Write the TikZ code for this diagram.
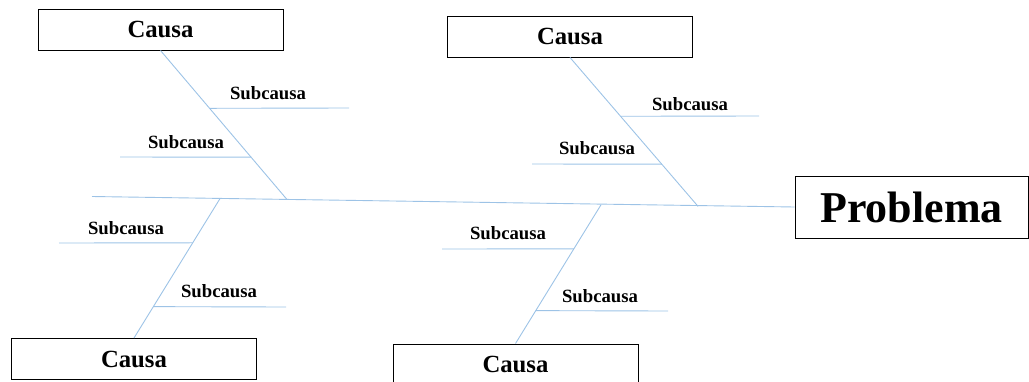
\documentclass[tikz,border=0pt]{standalone}
\usepackage{fontspec}
\setmainfont{Liberation Serif}
\usetikzlibrary{calc}
\definecolor{bonecol}{RGB}{157,195,230}
\begin{document}
\begin{tikzpicture}[x=1pt,y=-1pt,
 causebox/.style={draw=black, line width=1pt, minimum width=245pt, minimum height=41pt, inner sep=0pt, font=\fontsize{24.7}{26}\selectfont\bfseries},
 probbox/.style={draw=black, line width=1pt, minimum width=233pt, minimum height=62pt, inner sep=0pt, font=\fontsize{44}{46}\selectfont\bfseries},
 sublabel/.style={inner sep=0pt, font=\fontsize{18.7}{20}\selectfont\bfseries},
 bone/.style={draw=bonecol, line width=0.9pt}]
\useasboundingbox (0,0) rectangle (1029,381);
% boxes
\node[causebox] (c1) at (160.5,29.5) {Causa};
\node[causebox] (c2) at (570,36.5) {Causa};
\node[causebox] (c3) at (134,359) {Causa};
\node[causebox] (c4) at (515.5,364.5) {Causa};
\node[probbox] (p) at (911.5,207) {Problema};
% spine
\coordinate (s0) at (92,196.5);
\coordinate (j1) at (287,199.5);
\coordinate (j2) at (698,206.3);
\coordinate (j3) at (220,198.6);
\coordinate (j4) at (601,204.8);
\draw[bone] (s0) -- (p.west);
% main branches
\draw[bone] (c1.south) -- (j1);
\draw[bone] (c2.south) -- (j2);
\draw[bone] (c3.north) -- (j3);
\draw[bone] (c4.north) -- (j4);
% points on branches
\coordinate (b1a) at ($(c1.south)!0.388!(j1)$);
\coordinate (b1b) at ($(c1.south)!0.716!(j1)$);
\coordinate (b2a) at ($(c2.south)!0.395!(j2)$);
\coordinate (b2b) at ($(c2.south)!0.717!(j2)$);
\coordinate (b3a) at ($(j3)!0.317!(c3.north)$);
\coordinate (b3b) at ($(j3)!0.775!(c3.north)$);
\coordinate (b4a) at ($(j4)!0.3175!(c4.north)$);
\coordinate (b4b) at ($(j4)!0.763!(c4.north)$);
% free ends
\coordinate (e1a) at (349,108);
\coordinate (e1b) at (120,157);
\coordinate (e2a) at (759,116);
\coordinate (e2b) at (532,164);
\coordinate (e3a) at (59,243);
\coordinate (e3b) at (286,307);
\coordinate (e4a) at (442,249);
\coordinate (e4b) at (668,311);
\draw[bone] (b1a) -- (e1a);
\draw[bone] (b1b) -- (e1b);
\draw[bone] (b2a) -- (e2a);
\draw[bone] (b2b) -- (e2b);
\draw[bone] (b3a) -- (e3a);
\draw[bone] (b3b) -- (e3b);
\draw[bone] (b4a) -- (e4a);
\draw[bone] (b4b) -- (e4b);
% labels
\node[sublabel] (l1a) at (268,93) {Subcausa};
\node[sublabel] (l1b) at (186,142) {Subcausa};
\node[sublabel] (l2a) at (690,104) {Subcausa};
\node[sublabel] (l2b) at (597,148) {Subcausa};
\node[sublabel] (l3a) at (126,228) {Subcausa};
\node[sublabel] (l3b) at (219,291) {Subcausa};
\node[sublabel] (l4a) at (508,233) {Subcausa};
\node[sublabel] (l4b) at (600,296) {Subcausa};
\end{tikzpicture}
\end{document}
